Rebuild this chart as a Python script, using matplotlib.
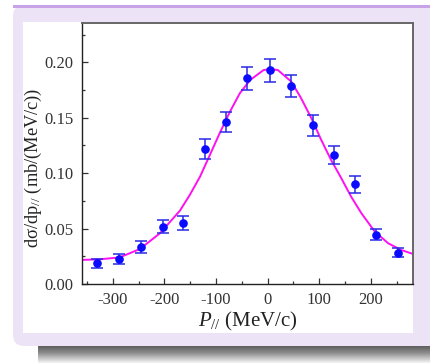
import numpy as np
import matplotlib
matplotlib.use("Agg")
import matplotlib.pyplot as plt
from matplotlib.patches import FancyBboxPatch, Rectangle
from matplotlib.ticker import MultipleLocator
from matplotlib.colors import LinearSegmentedColormap

plt.rcParams['font.family'] = ['Liberation Serif', 'DejaVu Serif']
plt.rcParams['mathtext.fontset'] = 'custom'
plt.rcParams['mathtext.rm'] = 'Liberation Serif'
plt.rcParams['mathtext.it'] = 'Liberation Serif:italic'

# ---- data ----
p_data = [-330, -288, -246, -203, -164, -122, -81, -40, 4, 45, 88, 129, 170, 211, 253]
sigma_data = [0.0186, 0.0229, 0.0334, 0.0517, 0.0553, 0.1222, 0.1462, 0.1855,
              0.1928, 0.1787, 0.1432, 0.1164, 0.0899, 0.0445, 0.0282]
sigma_err = [0.0040, 0.0045, 0.0053, 0.0056, 0.0062, 0.0090, 0.0093, 0.0102,
             0.0105, 0.0100, 0.0095, 0.0084, 0.0075, 0.0051, 0.0040]

fit_p = [-362, -325, -287, -248, -209, -170, -151, -131, -112, -93, -73, -54, -34,
         -8, 5, 20, 46, 65, 85, 104, 123, 143, 162, 182, 208, 234, 259, 284]
fit_sigma = [0.0217, 0.0223, 0.0240, 0.0315, 0.0457, 0.0662, 0.0803, 0.0969,
             0.1164, 0.1360, 0.1555, 0.1720, 0.1840, 0.1930, 0.1940, 0.1930,
             0.1826, 0.1676, 0.1495, 0.1300, 0.1120, 0.0954, 0.0788, 0.0638,
             0.0472, 0.0367, 0.0307, 0.0268]

xticks = [-300, -200, -100, 0, 100, 200]
yticks = [0.00, 0.05, 0.10, 0.15, 0.20]

W, H = 431, 364
fig = plt.figure(figsize=(W / 100, H / 100), dpi=100)
fig.patch.set_facecolor('white')

# ---- decorative background panel (pixel coordinates) ----
bg = fig.add_axes([0, 0, 1, 1], zorder=0)
bg.set_xlim(0, W)
bg.set_ylim(H, 0)
bg.axis('off')
grad = np.linspace(0, 1, 30).reshape(-1, 1)
shadow_cmap = LinearSegmentedColormap.from_list('sh', ['#4a4a4a', '#8e8e8e', '#f2f2f2'])
bg.imshow(grad, cmap=shadow_cmap, extent=(38, W, 363, 343), aspect='auto', zorder=1)
panel = FancyBboxPatch((13, 5), W - 13 + 20, 346 - 5, boxstyle='round,pad=0,rounding_size=11',
                       facecolor='#ede3f6', edgecolor='none', zorder=2)
bg.add_patch(panel)
bg.add_patch(Rectangle((13, 5), W - 13, 2.5, facecolor='#c7a2e6', edgecolor='none', zorder=3))
bg.add_patch(Rectangle((23, 22), 413 - 23, 333 - 22, facecolor='white', edgecolor='none', zorder=3))

# ---- main axes ----
ax = fig.add_axes([82 / W, 1 - 284 / H, (413 - 82) / W, (284 - 23) / H], zorder=2)
ax.set_facecolor('white')
ax.plot(fit_p, fit_sigma, color='#ff10f0', lw=1.4, zorder=2)
ax.errorbar(p_data, sigma_data, yerr=sigma_err, fmt='o', color='#0a0aff', ecolor='#2a2ae6',
            markersize=5.2, capsize=4.2, elinewidth=1.1, capthick=1.1, zorder=3)

ax.set_xlim(-360, 282)
ax.set_ylim(0, 0.2355)
ax.set_xticks(xticks)
ax.set_xticklabels([str(t) for t in xticks])
ax.set_yticks(yticks)
ax.set_yticklabels([f'{t:.2f}' for t in yticks])
ax.xaxis.set_minor_locator(MultipleLocator(50))
ax.yaxis.set_minor_locator(MultipleLocator(0.025))
ax.tick_params(which='both', direction='in', top=False, right=False, colors='#333333',
               labelsize=12, pad=6)
ax.tick_params(which='major', length=4, width=0.9)
ax.tick_params(which='minor', length=2.5, width=0.9)
for s in ['left', 'bottom']:
    ax.spines[s].set_color('#222222')
    ax.spines[s].set_linewidth(1.0)
for s in ['top', 'right']:
    ax.spines[s].set_color('#666666')
    ax.spines[s].set_linewidth(1.4)

fig.text(247.5 / W, 1 - 326 / H, r'$P_{\mathit{//}}$ (MeV/c)', ha='center', va='baseline',
         fontsize=15, color='#222222')
fig.text(33 / W, 1 - 168 / H, r'd$\mathrm{\sigma}$/dp$_{\mathit{//}}$ (mb/(MeV/c))', ha='center',
         va='center', rotation=90, fontsize=13.2, color='#222222')

fig.savefig('out.png', dpi=100)
